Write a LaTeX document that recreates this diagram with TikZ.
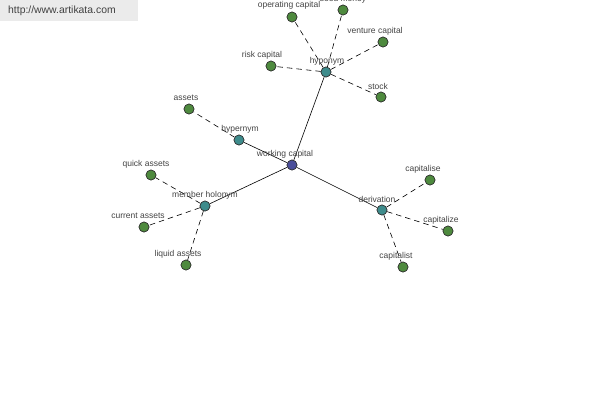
\documentclass[tikz,border=0pt]{standalone}
\usepackage{fontspec}
\setmainfont{Liberation Sans}
\begin{document}
\begin{tikzpicture}[x=1pt,y=-1pt,
  dot/.style={circle,draw=black!80,line width=0.6pt,minimum size=10pt,inner sep=0pt},
  leaf/.style={dot,fill=leafc},
  hub/.style={dot,fill=hubc},
  root/.style={dot,fill=rootc},
  lbl/.style={text=txtc,font=\fontsize{8.5}{9}\selectfont,inner sep=0pt},
  solidl/.style={draw=black,line width=0.6pt},
  dashl/.style={draw=black,line width=0.6pt,dash pattern=on 5.5pt off 4pt}]
\definecolor{leafc}{HTML}{4E8A3E}
\definecolor{hubc}{HTML}{3E8C8C}
\definecolor{rootc}{HTML}{4A4E9A}
\definecolor{txtc}{HTML}{444444}
\definecolor{banc}{HTML}{EBEBEB}
\useasboundingbox (0,0) rectangle (600,400);
\fill[white] (0,0) rectangle (600,400);
\begin{scope}
\clip (0,0) rectangle (600,400);
% nodes
\node[root] (wc) at (292,165) {};
\node[hub] (hypo) at (326,72) {};
\node[hub] (hyper) at (239,140) {};
\node[hub] (mh) at (205,206) {};
\node[hub] (der) at (382,210) {};
\node[leaf] (op) at (292,17) {};
\node[leaf] (seed) at (343,10) {};
\node[leaf] (vc) at (383,42) {};
\node[leaf] (rc) at (271,66) {};
\node[leaf] (stock) at (381,97) {};
\node[leaf] (assets) at (189,109) {};
\node[leaf] (qa) at (151,175) {};
\node[leaf] (ca) at (144,227) {};
\node[leaf] (la) at (186,265) {};
\node[leaf] (cse) at (430,180) {};
\node[leaf] (cze) at (448,231) {};
\node[leaf] (cst) at (403,267) {};
% connectors
\path[solidl] (wc) -- (hypo);
\path[solidl] (wc) -- (hyper);
\path[solidl] (wc) -- (mh);
\path[solidl] (wc) -- (der);
\foreach \a in {op,seed,vc,rc,stock} {\path[dashl] (hypo) -- (\a);}
\path[dashl] (hyper) -- (assets);
\foreach \a in {qa,ca,la} {\path[dashl] (mh) -- (\a);}
\foreach \a in {cse,cze,cst} {\path[dashl] (der) -- (\a);}
% redraw dots on top
\foreach \n/\s in {wc/root,hypo/hub,hyper/hub,mh/hub,der/hub,op/leaf,seed/leaf,vc/leaf,rc/leaf,stock/leaf,assets/leaf,qa/leaf,ca/leaf,la/leaf,cse/leaf,cze/leaf,cst/leaf}
  {\node[\s] at (\n) {};}
% labels
\node[lbl] (wcl) at (285,154) {working capital};
\node[lbl] (hypol) at (327,61) {hyponym};
\node[lbl] (hyperl) at (240,129) {hypernym};
\node[lbl] (mhl) at (205,195) {member holonym};
\node[lbl] (derl) at (377,199) {derivation};
\node[lbl] (opl) at (289,5) {operating capital};
\node[lbl] (seedl) at (343,-1) {seed money};
\node[lbl] (vcl) at (375,31) {venture capital};
\node[lbl] (rcl) at (262,55) {risk capital};
\node[lbl] (stockl) at (378,86) {stock};
\node[lbl] (assetsl) at (186,98) {assets};
\node[lbl] (qal) at (146,164) {quick assets};
\node[lbl] (cal) at (138,216) {current assets};
\node[lbl] (lal) at (178,254) {liquid assets};
\node[lbl] (csel) at (423,169) {capitalise};
\node[lbl] (czel) at (441,220) {capitalize};
\node[lbl] (cstl) at (396,256) {capitalist};
% banner
\fill[banc] (0,0) rectangle (138,21);
\node[lbl,anchor=west,text=black!75,font=\fontsize{10.4}{11}\selectfont] (ban) at (8,11) {http://www.artikata.com};
\end{scope}
\end{tikzpicture}
\end{document}
